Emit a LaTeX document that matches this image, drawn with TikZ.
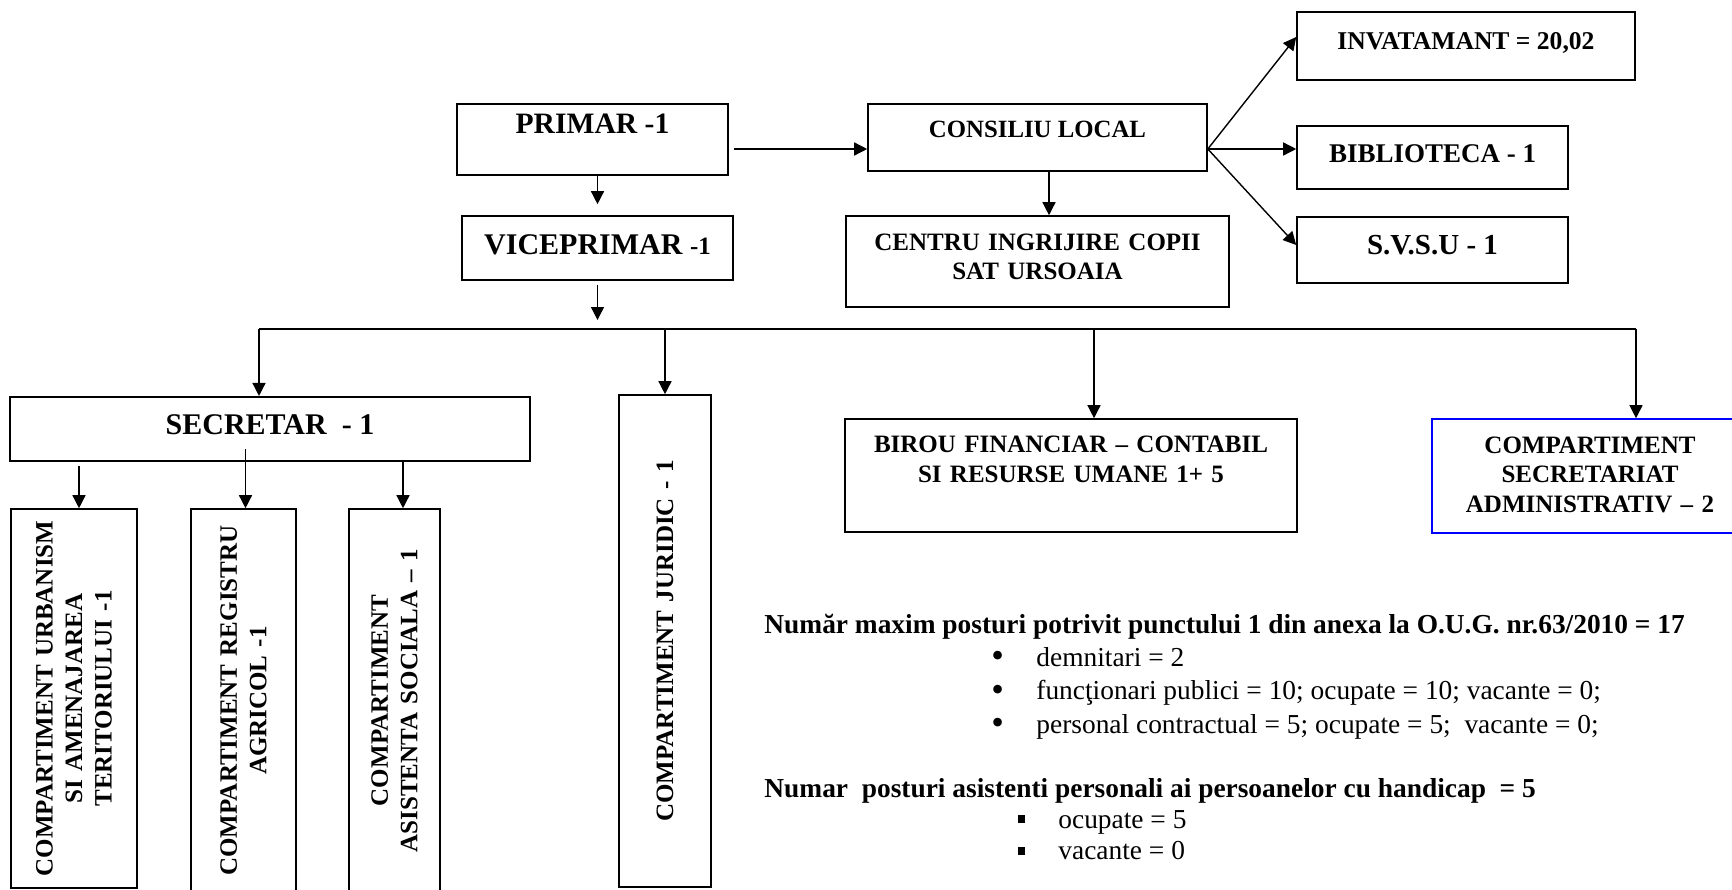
\documentclass[tikz,border=0pt]{standalone}
\usepackage{fontspec}
\setmainfont{Liberation Serif}
\usetikzlibrary{arrows.meta}

\begin{document}
\begin{tikzpicture}[x=0.5pt,y=-0.5pt,
        box/.style={draw,line width=0.8pt,inner sep=0pt,align=center,
            font=\fontsize{#1}{14.75}\selectfont\bfseries},
        box/.default=12.5,
        vbox/.style={box=12.5,rotate=90},
        arr/.style={line width=0.7pt,-{Triangle[length=6.5pt,width=6.5pt]}},
        item/.style={anchor=base west,inner sep=0pt,font=\fontsize{13.7}{16}\selectfont}]
    \useasboundingbox (0,0) rectangle (1732,889);
    \node[box=14.8,minimum width=135.5pt,text height=14.5pt,text depth=21pt] (primar) at (592.5,139.5) {PRIMAR -1};
    \node[box=15,minimum width=135.5pt,text height=19pt,text depth=13pt] (vice) at (597.5,248) {VICEPRIMAR {\fontsize{12.5}{15}\selectfont -1}};
    \node[box=12.4,minimum width=169.5pt,text height=16.5pt,text depth=17pt] (consiliu) at (1037.5,137.5) {CONSILIU LOCAL};
    \node[box=12.8,minimum width=169pt,text height=18.5pt,text depth=15.5pt] (inv) at (1466,46) {INVATAMANT = 20,02};
    \node[box=13.5,minimum width=135.5pt,text height=18pt,text depth=13.5pt] (biblio) at (1432.5,157.5) {BIBLIOTECA - 1};
    \node[box=14.5,minimum width=135.5pt,text height=18.5pt,text depth=14.5pt] (svsu) at (1432.5,250) {S.V.S.U - 1};
    \node[box,text width=191.5pt,text height=17pt,text depth=28.5pt] (centru) at (1037.5,261.5) {CENTRU INGRIJIRE COPII\\SAT URSOAIA};
    \node[box=15,minimum width=260pt,text height=19pt,text depth=13.25pt] (sec) at (270,429) {SECRETAR\ \ - 1};
    \node[box,text width=226pt,text height=16.85pt,text depth=39.65pt] (birou) at (1071,475.5) {BIROU FINANCIAR -- CONTABIL\\SI RESURSE UMANE 1+ 5};
    \node[box,draw=blue,text width=158pt,text height=17pt,text depth=40pt] (adm) at (1590,476) {COMPARTIMENT\\SECRETARIAT\\ADMINISTRATIV -- 2};
    \node[vbox,text width=189.5pt,minimum height=63pt] (urb) at (74,698.5) {COMPARTIMENT URBANISM\\SI AMENAJAREA\\TERITORIULUI -1};
    \node[vbox,text width=191.5pt,minimum height=52.5pt] (reg) at (243.5,700.5) {COMPARTIMENT REGISTRU\\AGRICOL -1};
    \node[vbox,text width=191.5pt,minimum height=45.5pt] (asis) at (394.5,700.5) {COMPARTIMENT\\ASISTENTA SOCIALA -- 1};
    \node[vbox,text width=246pt,minimum height=46pt] (jur) at (665,641) {COMPARTIMENT JURIDIC - 1};

    \coordinate (fan) at ([shift={(0,11.5)}]consiliu.east);
    \coordinate (vbus) at (597.5,320);
    \coordinate (b1) at (259,329);
    \coordinate (b2) at (665,329);
    \coordinate (b3) at (1094,329);
    \coordinate (b4) at (1636,329);

    \draw[arr] ([shift={(5,9.5)}]primar.east) -- (consiliu.west |- fan);
    \draw[arr] (vice.north |- primar.south) -- ([shift={(0,-11)}]vice.north);
    \draw[arr] ([shift={(0,4)}]vice.south) -- (vbus);
    \draw[arr] ([shift={(11.5,0)}]consiliu.south) -- ([shift={(11.5,0)}]centru.north);
    \draw[arr] (fan) -- ([shift={(0,-9)}]inv.west);
    \draw[arr] (fan) -- ([shift={(0,-8.5)}]biblio.west);
    \draw[arr] (fan) -- ([shift={(0,-5)}]svsu.west);
    \draw[line width=0.7pt] (b1) -- (b4);
    \draw[arr] (b1) -- (b1 |- sec.north);
    \draw[arr] (b2) -- (b2 |- jur.east);
    \draw[arr] (b3) -- (b3 |- birou.north);
    \draw[arr] (b4) -- (b4 |- adm.north);
    \draw[arr] ([shift={(5,4)}]sec.south -| urb.east) -- ([shift={(5,0)}]urb.east);
    \draw[arr] ([shift={(2,-13)}]sec.south -| reg.east) -- ([shift={(2,0)}]reg.east);
    \draw[arr] ([shift={(8.5,0)}]sec.south -| asis.east) -- ([shift={(8.5,0)}]asis.east);

    \node[item,font=\fontsize{13.7}{16}\selectfont\bfseries] (max) at (764,633) {Număr maxim posturi potrivit punctului 1 din anexa la O.U.G. nr.63/2010 = 17};
    \foreach \t [count=\i] in {{demnitari = 2},{funcţionari publici = 10; ocupate = 10; vacante = 0;},{personal contractual = 5; ocupate = 5;\ \ vacante = 0;}}{%
            \node[item] (it\i) at (991,{666+33.5*(\i-1)}) {\makebox[22.5pt][l]{\smash{\raisebox{-0.8pt}{\fontsize{18}{18}\selectfont•}}}\t};
        }
    \node[item,font=\fontsize{13.7}{16}\selectfont\bfseries] (asist) at (764,797) {Numar\ \ posturi asistenti personali ai persoanelor cu handicap\ \ = 5};
    \foreach \t [count=\i] in {{ocupate = 5},{vacante = 0}}{%
            \node[item] (sq\i) at (1018,{828+31.5*(\i-1)}) {\makebox[20pt][l]{\rule[2.5pt]{3.5pt}{4pt}}\t};
        }
\end{tikzpicture}
\end{document}
